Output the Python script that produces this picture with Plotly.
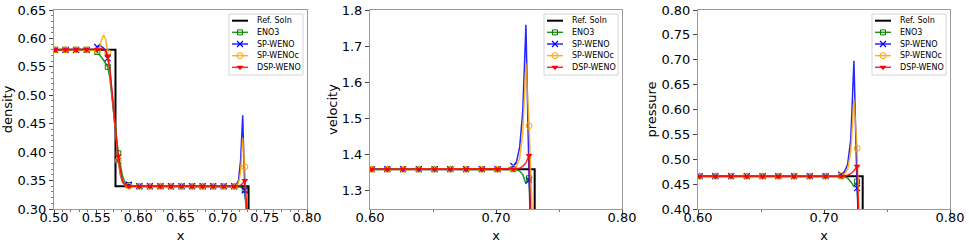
import plotly.graph_objects as go

# ---------------- data ----------------
# grid of cell centres (x), 0.50125 ... 0.74125, spacing 0.0025
x_grid = [
    0.50125, 0.50375, 0.50625, 0.50875, 0.51125, 0.51375, 0.51625, 0.51875, 0.52125, 0.52375,
    0.52625, 0.52875, 0.53125, 0.53375, 0.53625, 0.53875, 0.54125, 0.54375, 0.54625, 0.54875,
    0.55125, 0.55375, 0.55625, 0.55875, 0.56125, 0.56375, 0.56625, 0.56875, 0.57125, 0.57375,
    0.57625, 0.57875, 0.58125, 0.58375, 0.58625, 0.58875, 0.59125, 0.59375, 0.59625, 0.59875,
    0.60125, 0.60375, 0.60625, 0.60875, 0.61125, 0.61375, 0.61625, 0.61875, 0.62125, 0.62375,
    0.62625, 0.62875, 0.63125, 0.63375, 0.63625, 0.63875, 0.64125, 0.64375, 0.64625, 0.64875,
    0.65125, 0.65375, 0.65625, 0.65875, 0.66125, 0.66375, 0.66625, 0.66875, 0.67125, 0.67375,
    0.67625, 0.67875, 0.68125, 0.68375, 0.68625, 0.68875, 0.69125, 0.69375, 0.69625, 0.69875,
    0.70125, 0.70375, 0.70625, 0.70875, 0.71125, 0.71375, 0.71625, 0.71875, 0.72125, 0.72375,
    0.72625, 0.72875, 0.73125, 0.73375, 0.73625, 0.73875, 0.74125,
]
x_grid_uv = x_grid[40:]  # velocity / pressure panels start at 0.60125

ref_name = "Ref. Soln"
series_names = ["ENO3", "SP-WENO", "SP-WENOc", "DSP-WENO"]

rho_eno3 = [
    0.58, 0.58, 0.58, 0.58, 0.58, 0.58, 0.58, 0.58, 0.58, 0.58,
    0.58, 0.58, 0.58, 0.58, 0.58, 0.58, 0.58, 0.58, 0.58,
    0.579, 0.576, 0.572, 0.567, 0.562, 0.557, 0.550, 0.53, 0.50, 0.465,
    0.43, 0.398, 0.375, 0.358, 0.348, 0.344, 0.342, 0.341, 0.3405, 0.34,
    0.34, 0.34, 0.34, 0.34, 0.34, 0.34, 0.34, 0.34, 0.34, 0.34,
    0.34, 0.34, 0.34, 0.34, 0.34, 0.34, 0.34, 0.34, 0.34, 0.34,
    0.34, 0.34, 0.34, 0.34, 0.34, 0.34, 0.34, 0.34, 0.34, 0.34,
    0.34, 0.34, 0.34, 0.34, 0.34, 0.34, 0.34, 0.34, 0.34, 0.34,
    0.34, 0.34, 0.34, 0.34, 0.34, 0.34,
    0.34, 0.34, 0.3395, 0.339, 0.336, 0.334, 0.28, 0.2, 0.2, 0.2, 0.2, 0.2,
]
rho_spweno = [
    0.58, 0.58, 0.58, 0.58, 0.58, 0.58, 0.58, 0.58, 0.58, 0.58,
    0.58, 0.58, 0.58, 0.58, 0.58, 0.58, 0.58, 0.58, 0.58,
    0.581, 0.585, 0.587, 0.586, 0.583, 0.578, 0.565, 0.545, 0.50, 0.46,
    0.42, 0.385, 0.36, 0.347, 0.344, 0.343, 0.343, 0.341, 0.34, 0.34,
    0.34, 0.34, 0.34, 0.34, 0.34, 0.34, 0.34, 0.34, 0.34, 0.34,
    0.34, 0.34, 0.34, 0.34, 0.34, 0.34, 0.34, 0.34, 0.34, 0.34,
    0.34, 0.34, 0.34, 0.34, 0.34, 0.34, 0.34, 0.34, 0.34, 0.34,
    0.34, 0.34, 0.34, 0.34, 0.34, 0.34, 0.34, 0.34, 0.34, 0.34,
    0.34, 0.34, 0.34, 0.34, 0.34, 0.34,
    0.34, 0.342, 0.35, 0.385, 0.465, 0.333, 0.26, 0.2, 0.2, 0.2, 0.2, 0.2,
]
rho_spwenoc = [
    0.58, 0.58, 0.58, 0.58, 0.58, 0.58, 0.58, 0.58, 0.58, 0.58,
    0.58, 0.58, 0.58, 0.58, 0.58, 0.58, 0.58, 0.58, 0.58,
    0.579, 0.578, 0.583, 0.597, 0.606, 0.598, 0.575, 0.54, 0.50, 0.46,
    0.42, 0.385, 0.362, 0.348, 0.342, 0.340, 0.340, 0.34, 0.34, 0.34,
    0.34, 0.34, 0.34, 0.34, 0.34, 0.34, 0.34, 0.34, 0.34, 0.34,
    0.34, 0.34, 0.34, 0.34, 0.34, 0.34, 0.34, 0.34, 0.34, 0.34,
    0.34, 0.34, 0.34, 0.34, 0.34, 0.34, 0.34, 0.34, 0.34, 0.34,
    0.34, 0.34, 0.34, 0.34, 0.34, 0.34, 0.34, 0.34, 0.34, 0.34,
    0.34, 0.34, 0.34, 0.34, 0.34, 0.34,
    0.34, 0.341, 0.346, 0.365, 0.425, 0.374, 0.27, 0.2, 0.2, 0.2, 0.2, 0.2,
]
rho_dspweno = [
    0.58, 0.58, 0.58, 0.58, 0.58, 0.58, 0.58, 0.58, 0.58, 0.58,
    0.58, 0.58, 0.58, 0.58, 0.58, 0.58, 0.58, 0.58, 0.58,
    0.58, 0.58, 0.581, 0.582, 0.581, 0.578, 0.569, 0.545, 0.505, 0.465,
    0.425, 0.393, 0.368, 0.35, 0.343, 0.341, 0.340, 0.34, 0.34, 0.34,
    0.34, 0.34, 0.34, 0.34, 0.34, 0.34, 0.34, 0.34, 0.34, 0.34,
    0.34, 0.34, 0.34, 0.34, 0.34, 0.34, 0.34, 0.34, 0.34, 0.34,
    0.34, 0.34, 0.34, 0.34, 0.34, 0.34, 0.34, 0.34, 0.34, 0.34,
    0.34, 0.34, 0.34, 0.34, 0.34, 0.34, 0.34, 0.34, 0.34, 0.34,
    0.34, 0.34, 0.34, 0.34, 0.34, 0.34,
    0.34, 0.34, 0.341, 0.342, 0.345, 0.350, 0.28, 0.2, 0.2, 0.2, 0.2, 0.2,
]

u_eno3 = [
    1.36, 1.36, 1.36, 1.36, 1.36, 1.36, 1.36, 1.36, 1.36, 1.36,
    1.36, 1.36, 1.36, 1.36, 1.36, 1.36, 1.36, 1.36, 1.36, 1.36,
    1.36, 1.36, 1.36, 1.36, 1.36, 1.36, 1.36, 1.36, 1.36, 1.36,
    1.36, 1.36, 1.36, 1.36, 1.36, 1.36, 1.36, 1.36, 1.36, 1.36,
    1.36, 1.36, 1.36,
    1.36, 1.36, 1.36, 1.359, 1.355, 1.345, 1.32, 1.335, 1.0, 1.0, 1.0, 1.0, 1.0, 1.0,
]
u_spweno = [
    1.36, 1.36, 1.36, 1.36, 1.36, 1.36, 1.36, 1.36, 1.36, 1.36,
    1.36, 1.36, 1.36, 1.36, 1.36, 1.36, 1.36, 1.36, 1.36, 1.36,
    1.36, 1.36, 1.36, 1.36, 1.36, 1.36, 1.36, 1.36, 1.36, 1.36,
    1.36, 1.36, 1.36, 1.36, 1.36, 1.36, 1.36, 1.36, 1.36, 1.36,
    1.36, 1.36, 1.36,
    1.361, 1.364, 1.369, 1.38, 1.42, 1.52, 1.759, 1.33, 1.0, 1.0, 1.0, 1.0, 1.0, 1.0,
]
u_spwenoc = [
    1.36, 1.36, 1.36, 1.36, 1.36, 1.36, 1.36, 1.36, 1.36, 1.36,
    1.36, 1.36, 1.36, 1.36, 1.36, 1.36, 1.36, 1.36, 1.36, 1.36,
    1.36, 1.36, 1.36, 1.36, 1.36, 1.36, 1.36, 1.36, 1.36, 1.36,
    1.36, 1.36, 1.36, 1.36, 1.36, 1.36, 1.36, 1.36, 1.36, 1.36,
    1.36, 1.36, 1.36,
    1.36, 1.361, 1.362, 1.368, 1.39, 1.46, 1.653, 1.48, 1.0, 1.0, 1.0, 1.0, 1.0, 1.0,
]
u_dspweno = [
    1.36, 1.36, 1.36, 1.36, 1.36, 1.36, 1.36, 1.36, 1.36, 1.36,
    1.36, 1.36, 1.36, 1.36, 1.36, 1.36, 1.36, 1.36, 1.36, 1.36,
    1.36, 1.36, 1.36, 1.36, 1.36, 1.36, 1.36, 1.36, 1.36, 1.36,
    1.36, 1.36, 1.36, 1.36, 1.36, 1.36, 1.36, 1.36, 1.36, 1.36,
    1.36, 1.36, 1.36,
    1.36, 1.36, 1.36, 1.361, 1.363, 1.368, 1.378, 1.398, 1.0, 1.0, 1.0, 1.0, 1.0, 1.0,
]

p_eno3 = [
    0.466, 0.466, 0.466, 0.466, 0.466, 0.466, 0.466, 0.466, 0.466, 0.466,
    0.466, 0.466, 0.466, 0.466, 0.466, 0.466, 0.466, 0.466, 0.466, 0.466,
    0.466, 0.466, 0.466, 0.466, 0.466, 0.466, 0.466, 0.466, 0.466, 0.466,
    0.466, 0.466, 0.466, 0.466, 0.466, 0.466, 0.466, 0.466, 0.466, 0.466,
    0.466, 0.466, 0.466,
    0.466, 0.466, 0.466, 0.4655, 0.462, 0.455, 0.4455, 0.455, 0.3, 0.3, 0.3, 0.3, 0.3, 0.3,
]
p_spweno = [
    0.466, 0.466, 0.466, 0.466, 0.466, 0.466, 0.466, 0.466, 0.466, 0.466,
    0.466, 0.466, 0.466, 0.466, 0.466, 0.466, 0.466, 0.466, 0.466, 0.466,
    0.466, 0.466, 0.466, 0.466, 0.466, 0.466, 0.466, 0.466, 0.466, 0.466,
    0.466, 0.466, 0.466, 0.466, 0.466, 0.466, 0.466, 0.466, 0.466, 0.466,
    0.466, 0.466, 0.466,
    0.4665, 0.467, 0.469, 0.475, 0.49, 0.54, 0.698, 0.442, 0.3, 0.3, 0.3, 0.3, 0.3, 0.3,
]
p_spwenoc = [
    0.466, 0.466, 0.466, 0.466, 0.466, 0.466, 0.466, 0.466, 0.466, 0.466,
    0.466, 0.466, 0.466, 0.466, 0.466, 0.466, 0.466, 0.466, 0.466, 0.466,
    0.466, 0.466, 0.466, 0.466, 0.466, 0.466, 0.466, 0.466, 0.466, 0.466,
    0.466, 0.466, 0.466, 0.466, 0.466, 0.466, 0.466, 0.466, 0.466, 0.466,
    0.466, 0.466, 0.466,
    0.466, 0.466, 0.467, 0.47, 0.48, 0.515, 0.62, 0.522, 0.3, 0.3, 0.3, 0.3, 0.3, 0.3,
]
p_dspweno = [
    0.466, 0.466, 0.466, 0.466, 0.466, 0.466, 0.466, 0.466, 0.466, 0.466,
    0.466, 0.466, 0.466, 0.466, 0.466, 0.466, 0.466, 0.466, 0.466, 0.466,
    0.466, 0.466, 0.466, 0.466, 0.466, 0.466, 0.466, 0.466, 0.466, 0.466,
    0.466, 0.466, 0.466, 0.466, 0.466, 0.466, 0.466, 0.466, 0.466, 0.466,
    0.466, 0.466, 0.466,
    0.466, 0.466, 0.466, 0.4665, 0.468, 0.471, 0.477, 0.486, 0.3, 0.3, 0.3, 0.3, 0.3, 0.3,
]

# reference (exact) solution: step profiles
ref_rho_x = [0.49, 0.5729, 0.5729, 0.7307, 0.7307, 0.76]
ref_rho_y = [0.58, 0.58, 0.34, 0.34, 0.2, 0.2]
ref_u_x = [0.59, 0.7307, 0.7307, 0.76]
ref_u_y = [1.36, 1.36, 1.0, 1.0]
ref_p_x = [0.59, 0.7307, 0.7307, 0.76]
ref_p_y = [0.466, 0.466, 0.3, 0.3]

# ---------------- styling ----------------
FONT = "DejaVu Sans"
TRANSP = "rgba(0,0,0,0)"
styles = {
    "ENO3": dict(line="rgba(0,128,0,0.85)", mark="rgb(0,128,0)", symbol="square-open", size=5, lw=1.0),
    "SP-WENO": dict(line="rgba(0,0,255,0.85)", mark="rgb(0,0,255)", symbol="x-thin-open", size=6, lw=1.2),
    "SP-WENOc": dict(line="rgba(255,165,0,0.85)", mark="rgb(255,165,0)", symbol="circle-open", size=6, lw=1.0),
    "DSP-WENO": dict(line="rgba(255,0,0,0.85)", mark="rgb(255,0,0)", symbol="triangle-down", size=6, lw=0),
}
MARK_EVERY = 5

panels = [
    dict(xr=[0.5, 0.8], yr=[0.30, 0.65], ytitle="density",
         xticks=[0.50, 0.55, 0.60, 0.65, 0.70, 0.75, 0.80], xfmt=".2f", xminor=0.01,
         yticks=[0.30, 0.35, 0.40, 0.45, 0.50, 0.55, 0.60, 0.65], yfmt=".2f", yminor=0.01,
         x=x_grid, ys=[rho_eno3, rho_spweno, rho_spwenoc, rho_dspweno],
         rx=ref_rho_x, ry=ref_rho_y, dom=[54, 307], leg_left=229),
    dict(xr=[0.6, 0.8], yr=[1.25, 1.8], ytitle="velocity",
         xticks=[0.60, 0.70, 0.80], xfmt=".2f", xminor=0.05,
         yticks=[1.3, 1.4, 1.5, 1.6, 1.7, 1.8], yfmt=".1f", yminor=None,
         x=x_grid_uv, ys=[u_eno3, u_spweno, u_spwenoc, u_dspweno],
         rx=ref_u_x, ry=ref_u_y, dom=[370, 622], leg_left=544),
    dict(xr=[0.6, 0.8], yr=[0.40, 0.80], ytitle="pressure",
         xticks=[0.60, 0.70, 0.80], xfmt=".2f", xminor=0.05,
         yticks=[0.40, 0.45, 0.50, 0.55, 0.60, 0.65, 0.70, 0.75, 0.80], yfmt=".2f", yminor=None,
         x=x_grid_uv, ys=[p_eno3, p_spweno, p_spwenoc, p_dspweno],
         rx=ref_p_x, ry=ref_p_y, dom=[698, 950], leg_left=872),
]

W, H = 969, 248
PLOT_TOP, PLOT_BOT = 10, 209
LEG_TOP, LEG_W, LEG_H, LEG_ROW0, LEG_DY = 14, 74, 61, 6.7, 11.65

fig = go.Figure()
layout = dict(
    width=W, height=H, margin=dict(l=0, r=0, t=0, b=0),
    paper_bgcolor="white", plot_bgcolor="rgba(0,0,0,0)",
    font=dict(family=FONT, size=13, color="black"),
    showlegend=False, shapes=[], annotations=[],
)

for k, pn in enumerate(panels):
    sfx = "" if k == 0 else str(k + 1)
    xa, ya = "x" + sfx, "y" + sfx
    fig.add_trace(go.Scatter(x=pn["rx"], y=pn["ry"], mode="lines", name=ref_name,
                             line=dict(color="black", width=2), xaxis=xa, yaxis=ya))
    for name, yv in zip(series_names, pn["ys"]):
        st = styles[name]
        mcol = [st["mark"] if i % MARK_EVERY == 0 else TRANSP for i in range(len(yv))]
        fig.add_trace(go.Scatter(
            x=pn["x"], y=yv, mode="lines+markers", name=name,
            line=dict(color=st["line"], width=1.5),
            marker=dict(symbol=st["symbol"], size=st["size"], color=mcol,
                        line=dict(width=st["lw"], color=mcol)),
            xaxis=xa, yaxis=ya))

    axis_common = dict(showgrid=False, zeroline=False, showline=True, linecolor="#9a9a9a",
                       linewidth=1, mirror=True, ticks="outside", ticklen=4, tickwidth=1,
                       tickcolor="#444", automargin=False,
                       tickfont=dict(family=FONT, size=13, color="black"))
    xminor = dict(ticks="outside", ticklen=2, tickwidth=0.8, tickcolor="#777",
                  dtick=pn["xminor"], tick0=0)
    layout["xaxis" + sfx] = dict(
        axis_common, domain=[pn["dom"][0] / W, pn["dom"][1] / W], range=pn["xr"],
        tickmode="array", tickvals=pn["xticks"], tickformat=pn["xfmt"], anchor=ya,
        minor=xminor, ticklabelstandoff=-8,
        title=dict(text="x", standoff=7, font=dict(family=FONT, size=13)))
    ydict = dict(
        axis_common, domain=[1 - PLOT_BOT / H, 1 - PLOT_TOP / H], range=pn["yr"],
        tickmode="array", tickvals=pn["yticks"], tickformat=pn["yfmt"], anchor=xa,
        title=dict(text=pn["ytitle"], standoff=1, font=dict(family=FONT, size=13)))
    if pn["yminor"]:
        ydict["minor"] = dict(ticks="outside", ticklen=2, tickwidth=0.8, tickcolor="#777",
                              dtick=pn["yminor"], tick0=0)
    layout["yaxis" + sfx] = ydict

    # ---- hand-built legend (matplotlib-like compact box) ----
    L = pn["leg_left"]
    layout["shapes"].append(dict(
        type="rect", xref="paper", yref="paper",
        x0=L / W, x1=(L + LEG_W) / W, y0=1 - (LEG_TOP + LEG_H) / H, y1=1 - LEG_TOP / H,
        line=dict(color="#d4d4d4", width=1), fillcolor="rgba(255,255,255,0.85)", layer="below"))
    entries = [ref_name] + series_names
    for j, name in enumerate(entries):
        ry = LEG_TOP + LEG_ROW0 + LEG_DY * j
        if name == ref_name:
            fig.add_trace(go.Scatter(x=[L + 3, L + 19], y=[ry, ry], mode="lines",
                                     line=dict(color="black", width=2),
                                     xaxis="x4", yaxis="y4", hoverinfo="skip"))
        else:
            st = styles[name]
            fig.add_trace(go.Scatter(
                x=[L + 3, L + 11, L + 19], y=[ry, ry, ry], mode="lines+markers",
                line=dict(color=st["line"], width=1.5),
                marker=dict(symbol=st["symbol"], size=st["size"],
                            color=[TRANSP, st["mark"], TRANSP],
                            line=dict(width=st["lw"], color=[TRANSP, st["mark"], TRANSP])),
                xaxis="x4", yaxis="y4", hoverinfo="skip"))
        layout["annotations"].append(dict(
            text=name, xref="paper", yref="paper", x=(L + 26) / W, y=1 - ry / H,
            xanchor="left", yanchor="middle", showarrow=False,
            font=dict(family=FONT, size=8, color="black")))

# overlay axes in pixel units for the legend glyphs
layout["xaxis4"] = dict(domain=[0, 1], range=[0, W], visible=False, anchor="y4",
                        fixedrange=True, automargin=False)
layout["yaxis4"] = dict(domain=[0, 1], range=[H, 0], visible=False, anchor="x4",
                        fixedrange=True, automargin=False)

fig.update_layout(**layout)
fig.write_html("out.html", config={"displayModeBar": False},
               post_script="document.body.style.margin='0';document.body.style.padding='0';")
